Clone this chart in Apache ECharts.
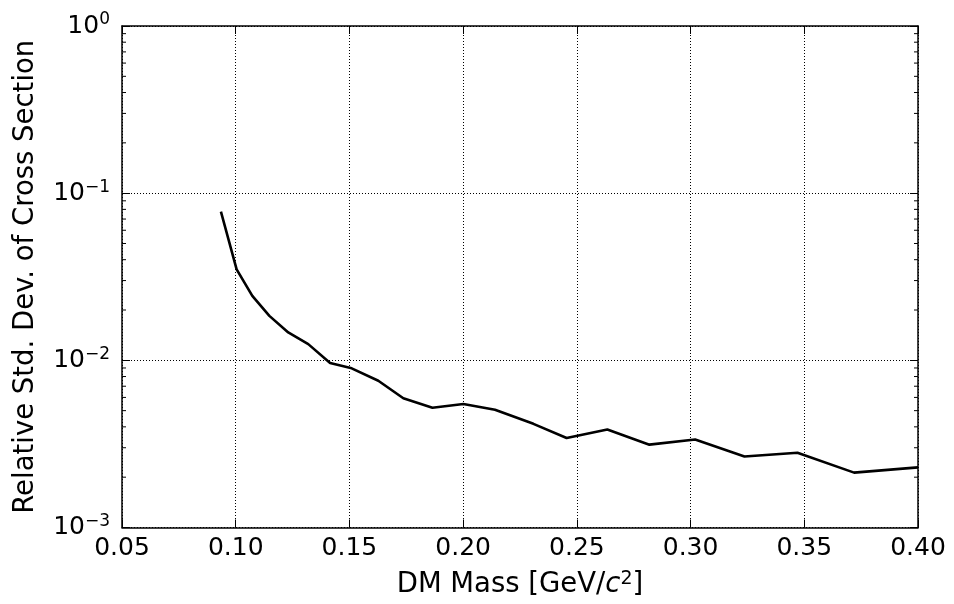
<!DOCTYPE html>
<html><head><meta charset="utf-8">
<script src="https://cdn.jsdelivr.net/npm/echarts@6/dist/echarts.min.js"></script>
<style>html,body{margin:0;padding:0;background:#fff}#c{width:954px;height:604px}</style>
</head><body><div id="c"></div>
<script>
const massGeV = [0.0935,0.1004,0.1073,0.1148,0.1231,0.1319,0.1415,0.1510,0.1627,0.1737,0.1865,0.2001,0.2140,0.2309,0.2455,0.2634,0.2819,0.3020,0.3237,0.3470,0.3719,0.4000];
const relStdDev = [0.0776,0.0350,0.0243,0.01845,0.01469,0.0125,0.00964,0.00896,0.00755,0.00593,0.00520,0.00548,0.00506,0.00417,0.00343,0.00386,0.00313,0.00336,0.00266,0.00280,0.00213,0.00229];
const xTickLabels = ['0.05','0.10','0.15','0.20','0.25','0.30','0.35','0.40'];
const yTickExponents = {'1':'0','0.1':'−1','0.01':'−2','0.001':'−3'};
const minorTickValues = [];
[0.001,0.01,0.1].forEach(d=>{for(let k=2;k<=9;k++) minorTickValues.push(+(d*k).toPrecision(3));});

const FONT = 'DejaVu Sans';
const FS = 25, SUP = 17, NFS = 27.5;
const chart = echarts.init(document.getElementById('c'));
const series = [{
  type:'line', data: massGeV.map((x,i)=>[x,relStdDev[i]]), showSymbol:false,
  lineStyle:{color:'#000',width:2.6}, itemStyle:{color:'#000'}, z:5, animation:false
},{
  type:'custom', data: minorTickValues.map(v=>[v]), animation:false, silent:true, clip:false,
  renderItem:(params,api)=>{
    const v = api.value(0);
    const l = api.coord([0.05,v]); const r = api.coord([0.40,v]);
    return {type:'group',children:[
      {type:'line',shape:{x1:l[0],y1:l[1],x2:l[0]+4,y2:l[1]},style:{stroke:'#000',lineWidth:1}},
      {type:'line',shape:{x1:r[0],y1:r[1],x2:r[0]-4,y2:r[1]},style:{stroke:'#000',lineWidth:1}}
    ]};
  },
  encode:{y:0}
}];
chart.setOption({
  animation:false,
  grid:{left:122,right:36,top:26,bottom:75,show:false},
  xAxis:[{
    type:'value', min:0.05, max:0.40, interval:0.05,
    name:'DM Mass [GeV/{i|c}{s|2}]', nameLocation:'middle', nameGap:42,
    nameTextStyle:{fontFamily:FONT,fontSize:NFS,color:'#000',
      rich:{i:{fontFamily:FONT,fontSize:NFS,fontStyle:'italic',color:'#000'},
            s:{fontFamily:FONT,fontSize:19,color:'#000',verticalAlign:'bottom',padding:[0,0,12,0]}}},
    axisLine:{show:true,lineStyle:{color:'#000',width:1.5}},
    axisTick:{show:true,inside:true,length:8,lineStyle:{color:'#000',width:1}},
    axisLabel:{fontFamily:FONT,fontSize:FS,color:'#000',margin:8,
      formatter:v=>xTickLabels[Math.round((v-0.05)/0.05)]},
    splitLine:{show:true,lineStyle:{color:'#000',type:[1,2],width:1}}
  },{
    type:'value', position:'top', min:0.05, max:0.40, interval:0.05,
    axisLine:{show:true,lineStyle:{color:'#000',width:1.5}},
    axisTick:{show:true,inside:true,length:8,lineStyle:{color:'#000',width:1}},
    axisLabel:{show:false}, splitLine:{show:false}
  }],
  yAxis:[{
    type:'log', logBase:10, min:0.001, max:1,
    name:'Relative Std. Dev. of Cross Section', nameLocation:'middle', nameGap:82,
    nameTextStyle:{fontFamily:FONT,fontSize:NFS,color:'#000'},
    axisLine:{show:true,lineStyle:{color:'#000',width:1.5}},
    axisTick:{show:true,inside:true,length:8,lineStyle:{color:'#000',width:1}},
    axisLabel:{fontFamily:FONT,fontSize:FS,color:'#000',margin:12,
      formatter:v=>'{b|10}{s|'+yTickExponents[String(+v.toPrecision(3))]+'}',
      rich:{b:{fontFamily:FONT,fontSize:FS,color:'#000'},
            s:{fontFamily:FONT,fontSize:SUP,color:'#000',verticalAlign:'bottom',padding:[0,0,12,0]}}},
    splitLine:{show:true,lineStyle:{color:'#000',type:[1,2],width:1}}
  },{
    type:'log', logBase:10, min:0.001, max:1, position:'right',
    axisLine:{show:true,lineStyle:{color:'#000',width:1.5}},
    axisTick:{show:true,inside:true,length:8,lineStyle:{color:'#000',width:1}},
    axisLabel:{show:false}, splitLine:{show:false}
  }],
  series
});
</script></body></html>
